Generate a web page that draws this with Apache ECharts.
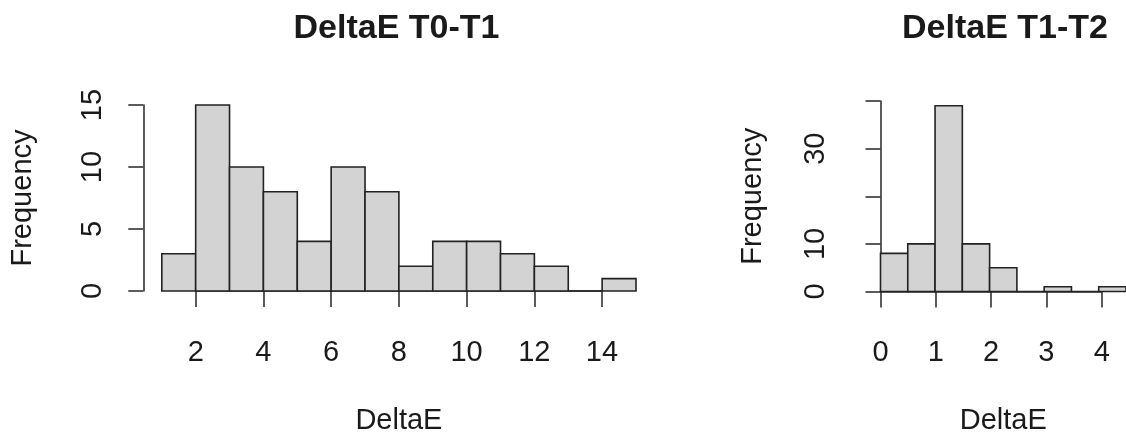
<!DOCTYPE html>
<html>
<head>
<meta charset="utf-8">
<script src="https://cdn.jsdelivr.net/npm/echarts@6/dist/echarts.min.js"></script>
<style>
html,body{margin:0;padding:0;background:#fff;}
#chart{width:1126px;height:441px;}
</style>
</head>
<body>
<div id="chart"></div>
<script>
// ---- data ----
const leftTitle = 'DeltaE T0-T1';
const rightTitle = 'DeltaE T1-T2';
const xName = 'DeltaE';
const yName = 'Frequency';
const leftBreaks = [1, 2, 3, 4, 5, 6, 7, 8, 9, 10, 11, 12, 13, 14, 15];
const leftCounts = [3, 15, 10, 8, 4, 10, 8, 2, 4, 4, 3, 2, 0, 1];
const rightBreaks = [0, 0.5, 1, 1.5, 2, 2.5, 3, 3.5, 4, 4.5];
const rightCounts = [8, 10, 39, 10, 5, 0, 1, 0, 1];
const leftXTicks = [2, 4, 6, 8, 10, 12, 14];
const leftYTicks = [0, 5, 10, 15];
const rightXTicks = [0, 1, 2, 3, 4];
const rightYTicks = [0, 10, 20, 30, 40];
const rightYLabels = [0, 10, 30];

function binData(breaks, counts) {
  return counts.map((c, i) => [breaks[i], breaks[i + 1], c]);
}

const FONT = '"Liberation Sans", Arial, Helvetica, sans-serif';
const LINE = '#333';
const TXT = '#1a1a1a';
const FS = 29;

function renderBin(params, api) {
  const p0 = api.coord([api.value(0), api.value(2)]);
  const p1 = api.coord([api.value(1), 0]);
  return {
    type: 'rect',
    shape: { x: p0[0], y: p0[1], width: p1[0] - p0[0], height: p1[1] - p0[1] },
    style: { fill: '#d3d3d3', stroke: '#222', lineWidth: 1.6 }
  };
}

const L = { zero: 291, top: 105 };
const R = { zero: 291.5, top: 101 };

const grids = [
  { left: 161.8, width: 474.2, top: L.top, height: L.zero - L.top },          // left data
  { left: 195.7, width: 406.3, top: L.top, height: L.zero - L.top },          // left x axis display
  { left: 880.5, width: 248.9, top: R.top, height: R.zero - R.top },          // right data
  { left: 880.5, width: 221.2, top: R.top, height: R.zero - R.top }           // right x axis display
];

const axisLineStyle = { show: true, lineStyle: { color: LINE, width: 1.6 } };
const labelStyle = { color: TXT, fontSize: FS, fontFamily: FONT };

function dataX(grid, min, max) {
  return {
    type: 'value', gridIndex: grid, min: min, max: max,
    axisLine: { show: false }, axisTick: { show: false }, axisLabel: { show: false },
    splitLine: { show: false },
    name: xName, nameLocation: 'middle', nameGap: 115,
    nameTextStyle: { color: TXT, fontSize: FS, fontFamily: FONT }
  };
}
function dispX(grid, ticks) {
  const step = ticks[1] - ticks[0];
  return {
    type: 'value', gridIndex: grid, min: ticks[0], max: ticks[ticks.length - 1], interval: step,
    offset: 7.3,
    axisLine: axisLineStyle,
    axisTick: { show: true, inside: false, length: 16, lineStyle: { color: LINE, width: 1.6 } },
    axisLabel: Object.assign({ margin: 40 }, labelStyle),
    splitLine: { show: false }
  };
}
function dataY(grid, ticks, offset, shown, gap) {
  const step = ticks[1] - ticks[0];
  return {
    type: 'value', gridIndex: grid, min: ticks[0], max: ticks[ticks.length - 1], interval: step,
    offset: offset,
    axisLine: axisLineStyle,
    axisTick: { show: true, inside: false, length: 15, lineStyle: { color: LINE, width: 1.6 } },
    axisLabel: Object.assign({
      rotate: 90, margin: 36,
      formatter: v => (shown.indexOf(v) >= 0 ? String(v) : '')
    }, labelStyle),
    splitLine: { show: false },
    name: yName, nameLocation: 'middle', nameRotate: 90, nameGap: gap,
    nameTextStyle: { color: TXT, fontSize: FS, fontFamily: FONT }
  };
}
function hiddenY(grid, max) {
  return { type: 'value', gridIndex: grid, min: 0, max: max, show: false };
}

const option = {
  animation: false,
  backgroundColor: '#fff',
  title: [
    { text: leftTitle, left: 396.5, top: 12, textAlign: 'center', padding: 0,
      textStyle: { fontSize: 34, fontWeight: 'bold', color: TXT, fontFamily: FONT } },
    { text: rightTitle, left: 1005, top: 12, textAlign: 'center', padding: 0,
      textStyle: { fontSize: 34, fontWeight: 'bold', color: TXT, fontFamily: FONT } }
  ],
  grid: grids,
  xAxis: [
    dataX(0, leftBreaks[0], leftBreaks[leftBreaks.length - 1]),
    dispX(1, leftXTicks),
    dataX(2, rightBreaks[0], rightBreaks[rightBreaks.length - 1]),
    dispX(3, rightXTicks)
  ],
  yAxis: [
    dataY(0, leftYTicks, 18.5, leftYTicks, 106),
    hiddenY(1, 15),
    dataY(2, rightYTicks, 13.8, rightYLabels, 99),
    hiddenY(3, 40)
  ],
  series: [
    { type: 'custom', xAxisIndex: 0, yAxisIndex: 0, renderItem: renderBin,
      encode: { x: [0, 1], y: 2 }, data: binData(leftBreaks, leftCounts), clip: false },
    { type: 'custom', xAxisIndex: 2, yAxisIndex: 2, renderItem: renderBin,
      encode: { x: [0, 1], y: 2 }, data: binData(rightBreaks, rightCounts), clip: false }
  ]
};

const chart = echarts.init(document.getElementById('chart'), null, { renderer: 'canvas' });
chart.setOption(option);
</script>
</body>
</html>
